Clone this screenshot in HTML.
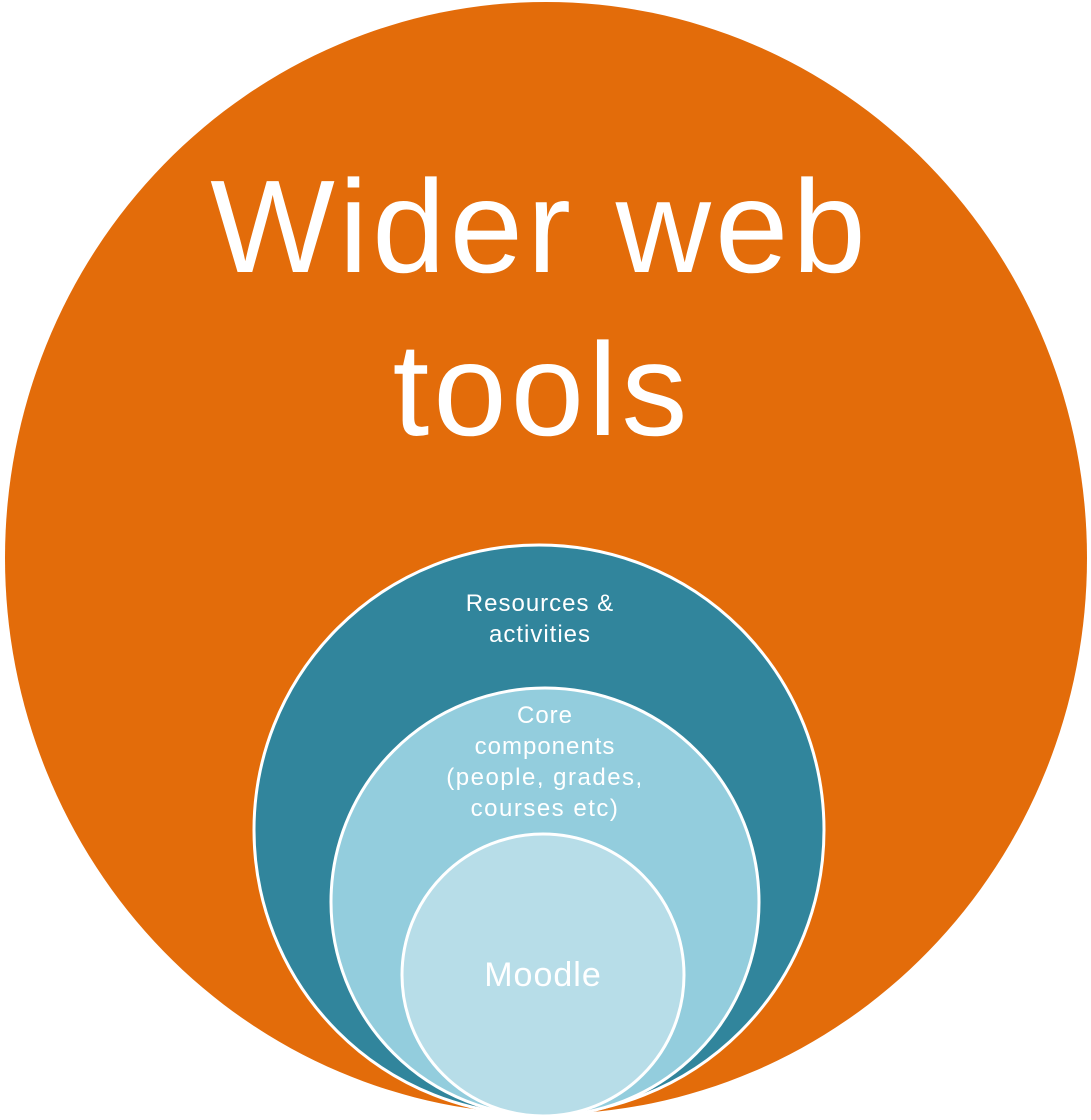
<!DOCTYPE html>
<html><head><meta charset="utf-8"><style>html,body{margin:0;padding:0;background:#fff}svg{display:block}</style></head>
<body>
<svg width="1091" height="1120" viewBox="0 0 1091 1120" xmlns="http://www.w3.org/2000/svg" font-family="'Liberation Sans', sans-serif">
<ellipse cx="546" cy="558" rx="541" ry="556" fill="#E36C0A"/>
<circle cx="539" cy="830" r="285" fill="#31859C" stroke="#fff" stroke-width="3"/>
<circle cx="545" cy="902" r="214" fill="#93CDDD" stroke="#fff" stroke-width="3"/>
<circle cx="543" cy="975" r="141" fill="#B7DDE8" stroke="#fff" stroke-width="3"/>
<g fill="#fff" text-anchor="middle">
<text x="540" y="272" font-size="132" letter-spacing="4">Wider web</text>
<text x="542" y="435" font-size="132" letter-spacing="4">tools</text>
<text x="540" y="611" font-size="24" letter-spacing="1">Resources &amp;</text>
<text x="540" y="642" font-size="24" letter-spacing="1">activities</text>
<text x="545" y="723" font-size="24" letter-spacing="1">Core</text>
<text x="545" y="754" font-size="24" letter-spacing="1">components</text>
<text x="545" y="785" font-size="24" letter-spacing="1.5">(people, grades,</text>
<text x="545" y="816" font-size="24" letter-spacing="1.5">courses etc)</text>
<text x="543" y="986" font-size="34" letter-spacing="1">Moodle</text>
</g>
</svg>
</body></html>
